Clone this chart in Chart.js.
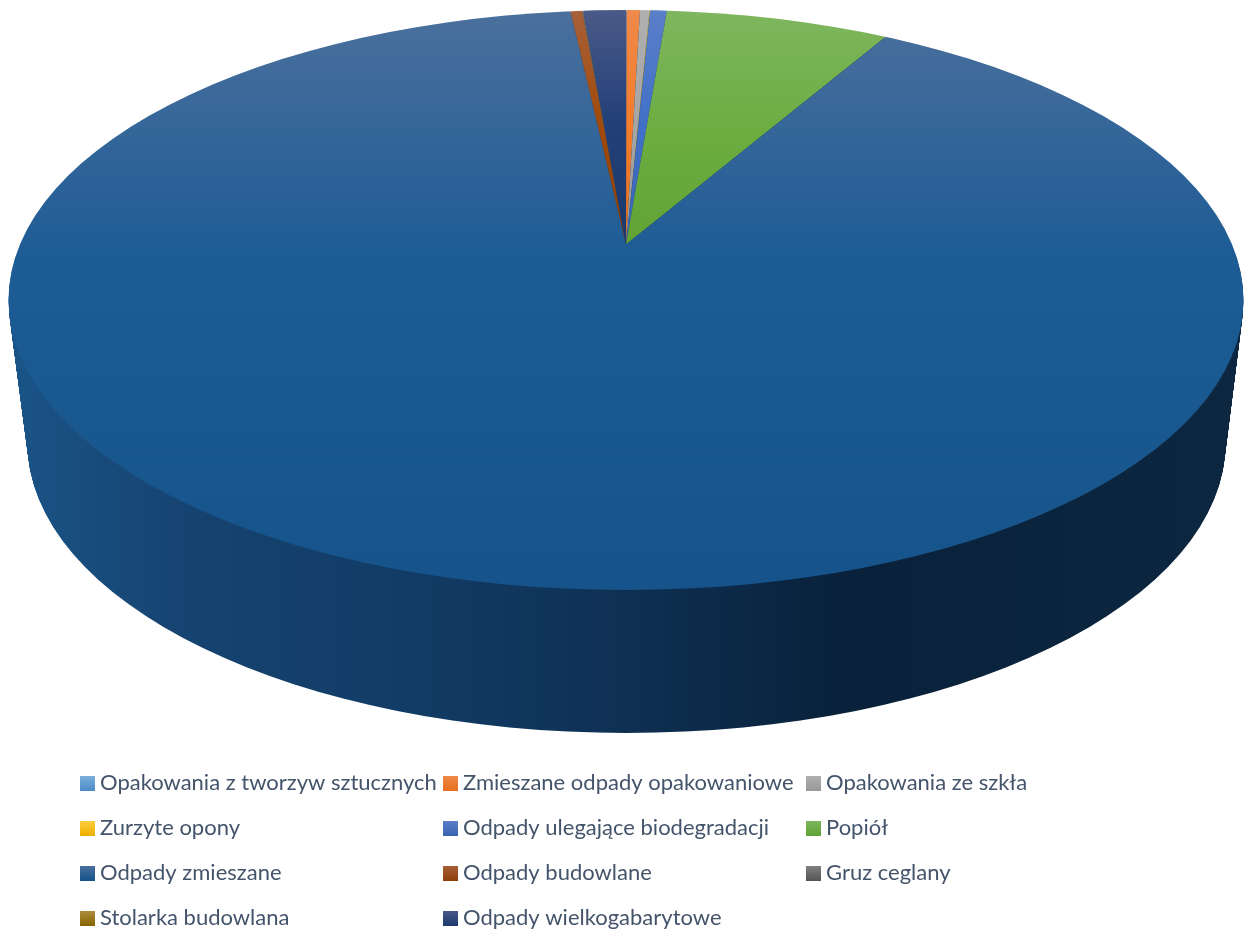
<!DOCTYPE html>
<html lang="pl">
<head>
<meta charset="utf-8">
<title>Odpady</title>
<script src="https://cdn.jsdelivr.net/npm/chart.js@4"></script>
<style>
html,body{margin:0;padding:0;background:#fff;overflow:hidden}
canvas{display:block}
</style>
</head>
<body>
<canvas id="c" width="1244" height="930"></canvas>
<script>
const categories = [
  'Opakowania z tworzyw sztucznych',
  'Zmieszane odpady opakowaniowe',
  'Opakowania ze szkła',
  'Zurzyte opony',
  'Odpady ulegające biodegradacji',
  'Popiół',
  'Odpady zmieszane',
  'Odpady budowlane',
  'Gruz ceglany',
  'Stolarka budowlana',
  'Odpady wielkogabarytowe'
];
const shares = [0.02, 0.42, 0.30, 0.02, 0.52, 7.04, 89.94, 0.37, 0.02, 0.01, 1.34];
const baseColors = ['#5b9bd5','#f57c2a','#a5a5a5','#ffc000','#4070c8','#6dad42','#1e5c95','#a04a0a','#636363','#997300','#223f78'];
const topColors  = ['#7cafdd','#ee8a4b','#b0b0b0','#ffcd40','#5b7fc8','#7fb65f','#4b709d','#a8603a','#828282','#ad8f40','#4a5a88'];
const lowColors  = ['#4d8cc6','#e8701f','#999999','#eeb000','#3a64b0','#60a334','#15538a','#8e3f0a','#555555','#886500','#1d3a6c'];
const midStops   = [0.2, 0.2, 0.2, 0.2, 0.2, 0.2, 0.42, 0.2, 0.2, 0.2, 0.2];
const lowStops   = [0.42, 0.42, 0.42, 0.42, 0.42, 0.42, 1, 0.42, 0.42, 0.42, 0.42];
const wallStops  = [[0,'#1a5488'],[0.1,'#174877'],[0.16,'#15426f'],[0.32,'#123c66'],[0.5,'#0e3053'],[0.68,'#09213a'],[0.84,'#0b243d'],[1,'#0d2740']];
const legendCols = [80, 443, 806];
const legendRows = [783, 828, 873, 918];

const canvas = document.getElementById('c');
const g2d = canvas.getContext('2d');

// top face and the base of the drum, as ellipses on the page
const face = {cx:626, cy:300, rx:617.5, ry:290};
const base = {cx:626.5, cy:443, rx:599, ry:290};
// perspective terms of the tilted disc seen from the apex of the slices
const persp = {a:605.9, b:279.2, c:-0.193};

function project(theta){
  const u = Math.sin(theta), v = -Math.cos(theta), w = 1 + persp.c*v;
  return Math.atan2(persp.b*v/w, persp.a*u/w);
}
function screenAngles(arc){
  const t0 = arc.startAngle + Math.PI/2, t1 = arc.endAngle + Math.PI/2;
  let s = project(t0), e = project(t1);
  if (s < -Math.PI/2 - 1e-6) s += Math.PI*2;
  if (e < -Math.PI/2 - 1e-6) e += Math.PI*2;
  if (t0 < 1e-9) s = -Math.PI/2;
  if (t1 > Math.PI*2 - 1e-9) e = Math.PI*1.5;
  return [s, e];
}
function ellipseClip(ctx, el){
  ctx.beginPath();
  ctx.ellipse(el.cx, el.cy, el.rx, el.ry, 0, 0, Math.PI*2);
  ctx.clip();
}
function drawArcs(ctx, arcs, dy, fill){
  arcs.forEach(arc => {
    const kept = {startAngle:arc.startAngle, endAngle:arc.endAngle, circumference:arc.circumference,
                  outerRadius:arc.outerRadius, y:arc.y, options:arc.options};
    const [s, e] = screenAngles(arc);
    arc.startAngle = s; arc.endAngle = e; arc.circumference = e - s;
    arc.outerRadius = 1400; arc.y = arc.y + dy;
    if (fill) arc.options = Object.assign({}, arc.options, {backgroundColor: fill});
    arc.draw(ctx);
    Object.assign(arc, kept);
  });
}

const wallFill = g2d.createLinearGradient(face.cx - face.rx, 0, face.cx + face.rx, 0);
wallStops.forEach(s => wallFill.addColorStop(s[0], s[1]));

const faceFills = baseColors.map((c, i) => {
  const g = g2d.createLinearGradient(0, face.cy - face.ry, 0, face.cy + face.ry);
  g.addColorStop(0, topColors[i]);
  g.addColorStop(midStops[i], c);
  g.addColorStop(lowStops[i], lowColors[i]);
  return g;
});

const tiltedPie = {
  id:'tiltedPie',
  beforeDatasetsDraw(chart){
    const ctx = chart.ctx, arcs = chart.getDatasetMeta(0).data;
    const steps = Math.round(base.cy - face.cy);
    for (let i = steps; i >= 1; i--){
      const t = i/steps;
      const el = {cx:face.cx+(base.cx-face.cx)*t, cy:face.cy+(base.cy-face.cy)*t,
                  rx:face.rx+(base.rx-face.rx)*t, ry:face.ry+(base.ry-face.ry)*t};
      ctx.save();
      ellipseClip(ctx, el);
      drawArcs(ctx, arcs, i, wallFill);
      ctx.restore();
    }
    ctx.save();
    ellipseClip(ctx, face);
    drawArcs(ctx, arcs, 0, null);
    ctx.restore();
    return false;
  }
};

const gridLegend = {
  id:'gridLegend',
  afterDraw(chart){
    const ctx = chart.ctx;
    ctx.save();
    ctx.font = '22px Lato';
    ctx.textBaseline = 'middle';
    ctx.textAlign = 'left';
    chart.data.labels.forEach((label, i) => {
      const x = legendCols[i % 3], y = legendRows[Math.floor(i / 3)];
      const g = ctx.createLinearGradient(0, y-7.5, 0, y+7.5);
      g.addColorStop(0, topColors[i]);
      g.addColorStop(1, lowColors[i]);
      ctx.fillStyle = g;
      ctx.fillRect(x, y-7, 15, 15);
      ctx.fillStyle = '#44546a';
      ctx.fillText(label, x+20, y);
    });
    ctx.restore();
  }
};

new Chart(canvas, {
  type:'pie',
  data:{labels:categories, datasets:[{data:shares, backgroundColor:faceFills, borderWidth:0}]},
  options:{
    responsive:false,
    devicePixelRatio:1,
    animation:false,
    events:[],
    layout:{padding:{left:8, right:0, top:8, bottom:449}},
    plugins:{legend:{display:false}, tooltip:{enabled:false}, title:{display:false}}
  },
  plugins:[tiltedPie, gridLegend]
});
</script>
</body>
</html>
